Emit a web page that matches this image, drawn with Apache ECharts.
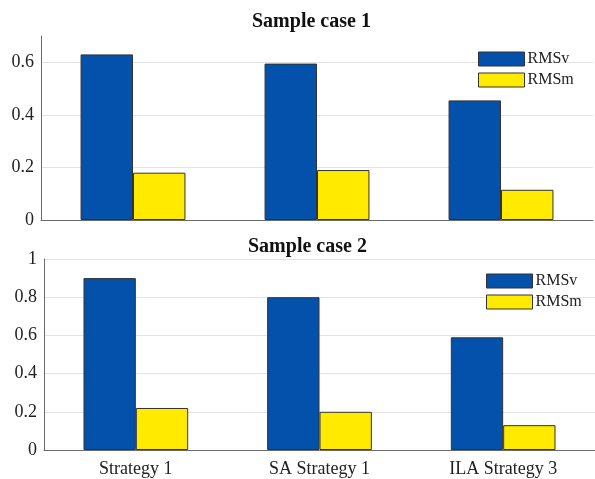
<!DOCTYPE html>
<html>
<head>
<meta charset="utf-8">
<script src="https://cdn.jsdelivr.net/npm/echarts@6/dist/echarts.min.js"></script>
<style>html,body{margin:0;padding:0;background:#fff}#c{width:595px;height:479px}</style>
</head>
<body>
<div id="c"></div>
<script>
var categories = ['Strategy 1', 'SA Strategy 1', 'ILA Strategy 3'];
var seriesNames = ['RMSv', 'RMSm'];
var case1RMSv = [0.63, 0.595, 0.455];
var case1RMSm = [0.18, 0.19, 0.115];
var case2RMSv = [0.90, 0.80, 0.59];
var case2RMSm = [0.22, 0.20, 0.13];
var titles = ['Sample case 1', 'Sample case 2'];

var FONT = "'Liberation Serif','Times New Roman',serif";
var BLUE = '#0451ab', YELLOW = '#ffea00';
var chart = echarts.init(document.getElementById('c'));

function yAx(idx, max) {
  return {
    type: 'value', gridIndex: idx, min: 0, max: max, interval: 0.2,
    axisLine: {show: true, lineStyle: {color: '#6b6b6b', width: 1}},
    axisTick: {show: false},
    axisLabel: {color: '#222', fontFamily: FONT, fontSize: 18, margin: 7, showMaxLabel: max === 1},
    splitLine: {show: true, showMaxLine: max === 1, lineStyle: {color: '#e3e3e3', width: 1}}
  };
}
function xAx(idx, showLabels) {
  return {
    type: 'category', gridIndex: idx, data: categories,
    axisLine: {show: true, lineStyle: {color: '#6b6b6b', width: 1}},
    axisTick: {show: false},
    axisLabel: {show: showLabels, color: '#222', fontFamily: FONT, fontSize: 18, margin: 10}
  };
}
function bar(name, data, idx, color) {
  return {
    name: name, type: 'bar', xAxisIndex: idx, yAxisIndex: idx, data: data,
    barGap: '0%', barCategoryGap: '43%',
    itemStyle: {color: color, borderColor: '#333', borderWidth: 1},
    emphasis: {disabled: true}
  };
}
function legend(idx, left, top) {
  return {
    data: [
      {name: seriesNames[0], itemStyle: {color: BLUE, borderColor: '#333', borderWidth: 1}},
      {name: seriesNames[1], itemStyle: {color: YELLOW, borderColor: '#333', borderWidth: 1}}
    ],
    orient: 'vertical', left: left, top: top, itemWidth: 46, itemHeight: 14, itemGap: 5,
    padding: 0, icon: 'rect',
    textStyle: {fontFamily: FONT, fontSize: 16, color: '#222', padding: [0, 0, 0, -2]},
    selectedMode: false
  };
}

chart.setOption({
  animation: false,
  title: [
    {text: titles[0], left: 247, top: 7, textStyle: {fontFamily: FONT, fontSize: 20, fontWeight: 'bold', color: '#111'}},
    {text: titles[1], left: 243, top: 232, textStyle: {fontFamily: FONT, fontSize: 20, fontWeight: 'bold', color: '#111'}}
  ],
  legend: [legend(0, 478, 51), legend(1, 486, 273)],
  grid: [
    {left: 41, right: 2, top: 36, height: 184},
    {left: 44, width: 555, top: 259, height: 191}
  ],
  xAxis: [xAx(0, false), xAx(1, true)],
  yAxis: [yAx(0, 0.7), yAx(1, 1)],
  series: [
    bar(seriesNames[0], case1RMSv, 0, BLUE),
    bar(seriesNames[1], case1RMSm, 0, YELLOW),
    bar(seriesNames[0], case2RMSv, 1, BLUE),
    bar(seriesNames[1], case2RMSm, 1, YELLOW)
  ]
});
</script>
</body>
</html>
